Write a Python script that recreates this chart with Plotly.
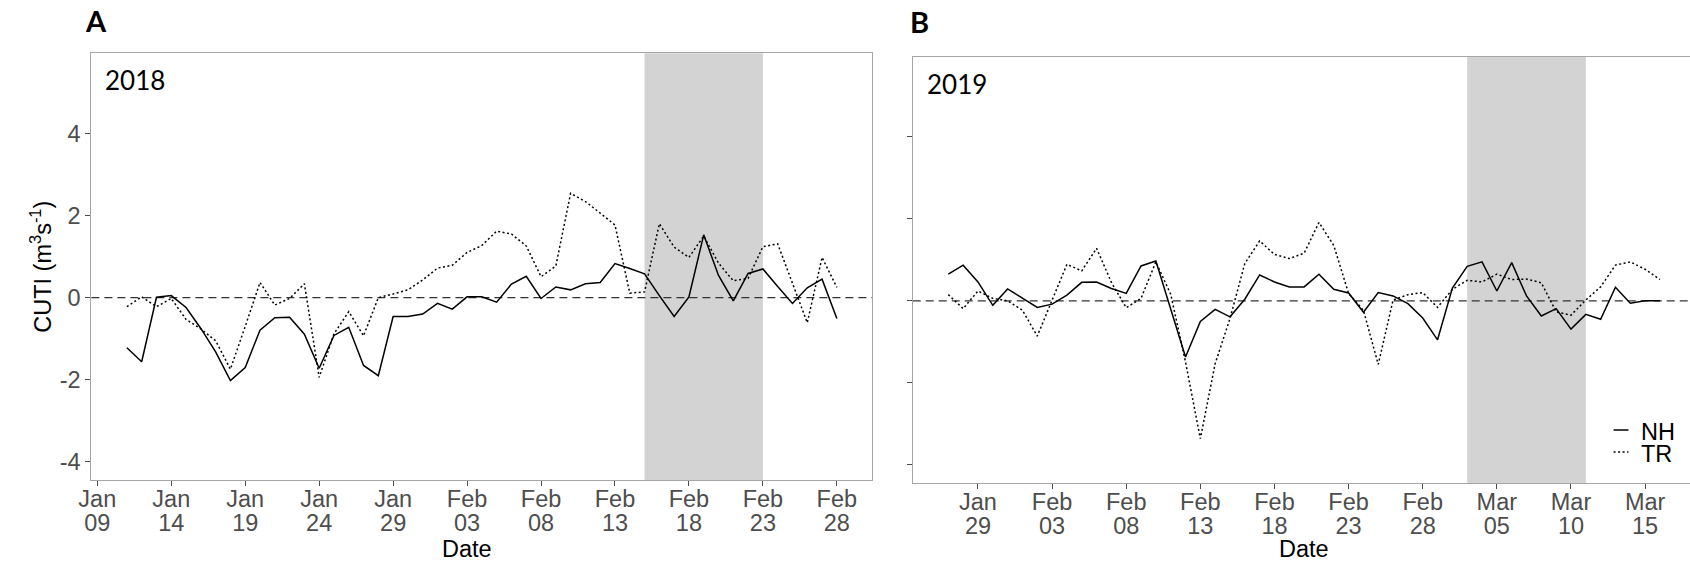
import pandas as pd
import plotly.graph_objects as go

# ---- data: daily CUTI values (m^3 s^-1) ----
start_2018 = "2018-01-11"
start_2019 = "2019-01-27"

nh_2018 = [-1.22, -1.56, 0.01, 0.05, -0.24, -0.75, -1.32, -2.02, -1.70, -0.79,
           -0.49, -0.48, -0.89, -1.72, -0.92, -0.72, -1.65, -1.90, -0.46, -0.46,
           -0.40, -0.14, -0.28, 0.02, 0.02, -0.11, 0.33, 0.52, -0.02, 0.26,
           0.19, 0.34, 0.37, 0.83, 0.71, 0.58, 0.05, -0.46, 0.02, 1.53,
           0.54, -0.08, 0.59, 0.70, 0.27, -0.14, 0.24, 0.45, -0.51]
tr_2018 = [-0.22, 0.02, -0.22, -0.02, -0.53, -0.76, -1.05, -1.74, -0.70, 0.37,
           -0.18, -0.02, 0.34, -1.94, -0.88, -0.34, -0.93, 0.00, 0.09, 0.19,
           0.43, 0.72, 0.79, 1.10, 1.27, 1.62, 1.55, 1.26, 0.51, 0.77,
           2.54, 2.34, 2.06, 1.77, 0.11, 0.14, 1.80, 1.23, 0.98, 1.50,
           0.84, 0.41, 0.47, 1.24, 1.31, 0.35, -0.61, 0.98, 0.25]

nh_2019 = [0.65, 0.87, 0.46, -0.11, 0.29, 0.06, -0.16, -0.08, 0.14, 0.45,
           0.46, 0.30, 0.18, 0.85, 0.97, -0.20, -1.37, -0.50, -0.21, -0.39,
           0.04, 0.63, 0.46, 0.34, 0.34, 0.65, 0.28, 0.19, -0.28, 0.20,
           0.12, -0.07, -0.42, -0.95, 0.31, 0.84, 0.95, 0.24, 0.93, 0.12,
           -0.37, -0.19, -0.69, -0.33, -0.45, 0.33, -0.06, 0.00, 0.00]
tr_2019 = [0.15, -0.19, 0.24, 0.06, 0.00, -0.23, -0.86, 0.02, 0.89, 0.73,
           1.28, 0.45, -0.17, 0.06, 0.95, 0.16, -1.49, -3.36, -1.53, -0.43,
           0.91, 1.46, 1.13, 1.03, 1.16, 1.91, 1.35, 0.18, -0.23, -1.55,
           0.02, 0.15, 0.20, -0.16, 0.28, 0.50, 0.46, 0.65, 0.52, 0.53,
           0.44, -0.27, -0.35, 0.02, 0.34, 0.87, 0.95, 0.77, 0.52]

shade_2018 = ("2018-02-15", "2018-02-23")
shade_2019 = ("2019-03-03", "2019-03-11")

ticks_2018 = ["2018-01-09", "2018-01-14", "2018-01-19", "2018-01-24", "2018-01-29",
              "2018-02-03", "2018-02-08", "2018-02-13", "2018-02-18", "2018-02-23",
              "2018-02-28"]
ticks_2019 = ["2019-01-29", "2019-02-03", "2019-02-08", "2019-02-13", "2019-02-18",
              "2019-02-23", "2019-02-28", "2019-03-05", "2019-03-10", "2019-03-15"]
y_ticks = [-4, -2, 0, 2, 4]

dates_2018 = pd.date_range(start_2018, periods=len(nh_2018), freq="D")
dates_2019 = pd.date_range(start_2019, periods=len(nh_2019), freq="D")


def month_text(vals):
    return [pd.Timestamp(v).strftime("%b") for v in vals]


def day_text(vals):
    return [pd.Timestamp(v).strftime("%d") for v in vals]


W, H = 1690, 564
FONT_FAMILY = "Liberation Sans, Arial, sans-serif"
TICK_FONT = dict(family=FONT_FAMILY, size=23.5, color="#4d4d4d")
LINE_COL = "#a6a6a6"
TICK_COL = "#4d4d4d"
SOLID = dict(color="black", width=1.5)
DOTTED = dict(color="black", width=1.5, dash="2px,2.5px")

fig = go.Figure()
fig.add_trace(go.Scatter(x=dates_2018, y=nh_2018, mode="lines", line=SOLID,
                         name="NH", xaxis="x", yaxis="y", showlegend=False))
fig.add_trace(go.Scatter(x=dates_2018, y=tr_2018, mode="lines", line=DOTTED,
                         name="TR", xaxis="x", yaxis="y", showlegend=False))
fig.add_trace(go.Scatter(x=dates_2019, y=nh_2019, mode="lines", line=SOLID,
                         name="NH", xaxis="x2", yaxis="y2", showlegend=False))
fig.add_trace(go.Scatter(x=dates_2019, y=tr_2019, mode="lines", line=DOTTED,
                         name="TR", xaxis="x2", yaxis="y2", showlegend=False))

y_range = [-4.44, 5.95]
x_range_2018 = ["2018-01-08 14:24", "2018-03-02 09:36"]
x_range_2019 = ["2019-01-24 14:24", "2019-03-18 00:40"]
dom_x_2018 = [79 / W, 866 / W]
dom_x_2019 = [906.7 / W, 1.0]

axis_common = dict(showgrid=False, zeroline=False, showline=True, linecolor=LINE_COL,
                   linewidth=1.2, ticks="outside", ticklen=5, tickwidth=1.1,
                   tickcolor=TICK_COL, tickfont=TICK_FONT)
# month row of the date labels
month_axis = dict(axis_common, ticklabelstandoff=-7)
# day-of-month row sits on an overlaid axis, one line lower
day_axis = dict(showgrid=False, zeroline=False, showline=False, ticks="outside",
                ticklen=5, tickcolor="rgba(0,0,0,0)", tickfont=TICK_FONT,
                ticklabelstandoff=17, side="bottom")

fig.update_layout(
    width=W, height=H,
    margin=dict(l=0, r=0, t=0, b=0),
    paper_bgcolor="white", plot_bgcolor="white",
    xaxis=dict(domain=dom_x_2018, anchor="y", range=x_range_2018,
               tickvals=ticks_2018, ticktext=month_text(ticks_2018),
               mirror=True, **month_axis),
    yaxis=dict(domain=[1 - 480 / H, 1 - 53.3 / H], anchor="x", range=y_range,
               tickvals=y_ticks, ticktext=[str(v) for v in y_ticks],
               mirror=True, **axis_common),
    xaxis2=dict(domain=dom_x_2019, anchor="y2", range=x_range_2019,
                tickvals=ticks_2019, ticktext=month_text(ticks_2019),
                mirror=True, **month_axis),
    yaxis2=dict(domain=[1 - 483 / H, 1 - 56.7 / H], anchor="x2", range=y_range,
                tickvals=y_ticks, showticklabels=False,
                mirror=False, **axis_common),
    xaxis3=dict(overlaying="x", anchor="y", range=x_range_2018,
                tickvals=ticks_2018, ticktext=day_text(ticks_2018), **day_axis),
    xaxis4=dict(overlaying="x2", anchor="y2", range=x_range_2019,
                tickvals=ticks_2019, ticktext=day_text(ticks_2019), **day_axis),
)
# invisible traces so the overlaid day-label axes are drawn
fig.add_trace(go.Scatter(x=[dates_2018[0]], y=[None], xaxis="x3", yaxis="y",
                         showlegend=False, hoverinfo="skip"))
fig.add_trace(go.Scatter(x=[dates_2019[0]], y=[None], xaxis="x4", yaxis="y2",
                         showlegend=False, hoverinfo="skip"))

shapes = []
for (x0, x1), xr, yr in [(shade_2018, "x", "y"), (shade_2019, "x2", "y2")]:
    shapes.append(dict(type="rect", xref=xr, yref=f"{yr} domain", x0=x0, x1=x1,
                       y0=0, y1=1, fillcolor="#d3d3d3", line=dict(width=0),
                       layer="below"))
    shapes.append(dict(type="line", xref=f"{xr} domain", yref=yr, x0=0, x1=1,
                       y0=0, y1=0, line=dict(color="#333333", width=1.3,
                                             dash="8px,5px"),
                       layer="below"))

# legend keys drawn in the lower right of panel B
legend_items = [("NH", 430, SOLID), ("TR", 452, DOTTED)]
for label, ypx, style in legend_items:
    shapes.append(dict(type="line", xref="paper", yref="paper",
                       x0=1613 / W, x1=1628 / W, y0=1 - ypx / H, y1=1 - ypx / H,
                       line=style))
fig.update_layout(shapes=shapes)

ann = []
TXT = dict(family="Lato, Liberation Sans, sans-serif", color="black")
ann.append(dict(text="<b>A</b>", x=71 / W, y=1 - 20 / H, font=dict(size=29, **TXT)))
ann.append(dict(text="<b>B</b>", x=902 / W, y=1 - 21 / H, font=dict(size=29, **TXT)))
ann.append(dict(text="2018", x=91 / W, y=1 - 79.5 / H, font=dict(size=26, **TXT)))
ann.append(dict(text="2019", x=919 / W, y=1 - 84 / H, font=dict(size=26, **TXT)))
LAB = dict(family=FONT_FAMILY, size=23.5, color="black")
ann.append(dict(text="Date", x=458 / W, y=1 - 548.5 / H, xanchor="center", font=LAB))
ann.append(dict(text="Date", x=1301 / W, y=1 - 548.5 / H, xanchor="center", font=LAB))
ann.append(dict(text="CUTI (m<sup>3</sup>s<sup>-1</sup>)", x=28 / W, y=1 - 267 / H,
                xanchor="center", textangle=-90, font=LAB))
for label, ypx, style in legend_items:
    ann.append(dict(text=label, x=1639 / W, y=1 - (ypx + 1.5) / H, height=18,
                    font=LAB))
for a in ann:
    a.setdefault("xanchor", "left")
    a.update(xref="paper", yref="paper", yanchor="middle", showarrow=False)
fig.update_layout(annotations=ann)

fig.write_html("out.html")
